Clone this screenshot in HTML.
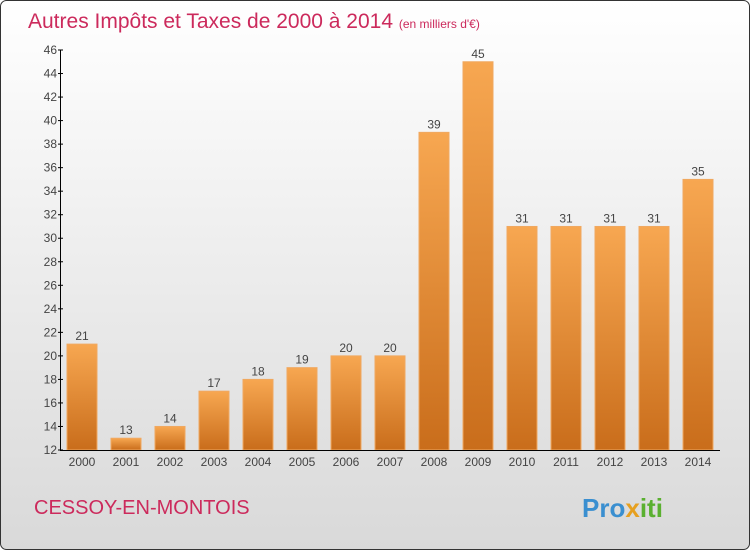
<!DOCTYPE html>
<html><head><meta charset="utf-8"><style>
body{margin:0;width:750px;height:550px;overflow:hidden;font-family:"Liberation Sans",sans-serif}
</style></head><body>
<svg width="750" height="550" xmlns="http://www.w3.org/2000/svg">
<defs>
<linearGradient id="bg" x1="0" y1="0" x2="0" y2="1"><stop offset="0" stop-color="#ffffff"/><stop offset="1" stop-color="#d9d9d9"/></linearGradient>
<linearGradient id="bar" x1="0" y1="0" x2="0" y2="1"><stop offset="0" stop-color="#f7a751"/><stop offset="1" stop-color="#c96d1b"/></linearGradient>
</defs>
<rect x="0.5" y="0.5" width="749" height="549" rx="6" fill="url(#bg)" stroke="#333"/>
<text x="28" y="28" font-size="21" fill="#cc2a5c">Autres Impôts et Taxes de 2000 à 2014 <tspan font-size="12">(en milliers d'€)</tspan></text>
<g id="plot"></g>
<text x="34" y="514" font-size="20" fill="#cc2a5c">CESSOY-EN-MONTOIS</text>
<text x="582" y="517" font-size="26" font-weight="bold" fill="#3a8fd0">Pro<tspan fill="#e6a020">x</tspan><tspan fill="#5ab030">iti</tspan></text>
</svg>
<script>
const categories=["2000","2001","2002","2003","2004","2005","2006","2007","2008","2009","2010","2011","2012","2013","2014"];
const values=[21,13,14,17,18,19,20,20,39,45,31,31,31,31,35];
const yTicks=[12,14,16,18,20,22,24,26,28,30,32,34,36,38,40,42,44,46];
const NS="http://www.w3.org/2000/svg";
const g=document.getElementById('plot');
const y=v=>450-(v-12)*400/34;
const x=i=>67+i*44;
function mk(t,a,txt){const e=document.createElementNS(NS,t);for(const k in a)e.setAttribute(k,a[k]);if(txt!==undefined)e.textContent=txt;g.appendChild(e);return e;}
values.forEach((v,i)=>{
 const r=mk('rect',{x:x(i),y:y(v),width:30,height:450-y(v),fill:'url(#bar)',stroke:'#f0a860','stroke-width':1});
 
 
 const t=mk('text',{x:x(i)+15,y:y(v)-4,'font-size':12,'text-anchor':'middle',fill:'#444'},String(v));
 
 
 const c=mk('text',{x:x(i)+15,y:466,'font-size':12,'text-anchor':'middle',fill:'#444'},categories[i]);
 
 
});
const ya=mk('line',{x1:60.5,y1:50,x2:60.5,y2:450,stroke:'#000'});


const xa=mk('line',{x1:60,y1:450.5,x2:720,y2:450.5,stroke:'#000'});


yTicks.forEach(v=>{
 mk('line',{x1:58,y1:y(v),x2:63,y2:y(v),stroke:'#000'});
 const t=mk('text',{x:57,y:y(v)+4,'font-size':12,'text-anchor':'end',fill:'#444'},String(v));
 
 
});
</script>
</body></html>
